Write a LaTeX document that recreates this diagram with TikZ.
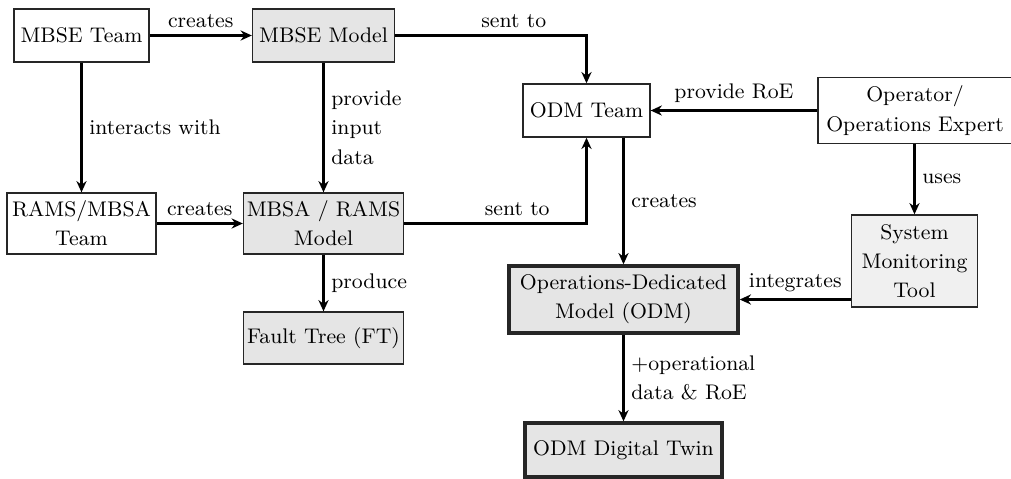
\documentclass[tikz,border=0pt]{standalone}
\usetikzlibrary{arrows.meta}
\begin{document}
\begin{tikzpicture}[x=0.4444pt,y=-0.4444pt,
  font=\fontsize{9.4}{13}\selectfont,
  box/.style={draw=black!85, line width=0.6pt, align=center, inner sep=1pt},
  gbox/.style={box, fill=gray!20},
  lbox/.style={box, fill=gray!12},
  tbox/.style={box, fill=gray!20, line width=1.5pt},
  arr/.style={-{Stealth[length=5pt,width=4.5pt]}, line width=1pt},
  lab/.style={inner sep=3pt, align=left}]
\useasboundingbox (0,0) rectangle (1011,478);
\node[box, minimum width=60pt, minimum height=23.6pt] (mt) at (81.5,35.5) {MBSE Team};
\node[gbox, minimum width=63.1pt, minimum height=23.6pt] (mm) at (323.5,35.5) {MBSE Model};
\node[box, minimum width=66.2pt, minimum height=27.1pt] (rt) at (81.5,223.5) {RAMS/MBSA\\Team};
\node[gbox, minimum width=71.1pt, minimum height=27.1pt] (mr) at (323.5,223.5) {MBSA / RAMS\\Model};
\node[gbox, minimum width=71.1pt, minimum height=23.1pt] (ft) at (323.5,338) {Fault Tree (FT)};
\node[box, minimum width=56.4pt, minimum height=23.6pt] (odt) at (586.5,110.5) {ODM Team};
\node[box, minimum width=86.2pt, minimum height=29.3pt] (op) at (915,110.5) {Operator/\\Operations Expert};
\node[lbox, minimum width=56pt, minimum height=40.9pt] (smt) at (914.5,261) {System\\Monitoring\\Tool};
\node[tbox, minimum width=101.8pt, minimum height=29.8pt] (odm) at (623.5,299.5) {Operations-Dedicated\\Model (ODM)};
\node[tbox, minimum width=87.6pt, minimum height=24pt] (tw) at (623.5,450) {ODM Digital Twin};

\draw[arr] (mt.east) -- node[lab, above] {creates} (mm.west);
\draw[arr] (mt.south) -- node[lab, right] {interacts with} (rt.north);
\draw[arr] (mm.south) -- node[lab, right] {provide\\input\\data} (mr.north);
\draw[arr] (rt.east) -- node[lab, above] {creates} (mr.west);
\draw[arr] (mr.south) -- node[lab, right] {produce} (ft.north);
\draw[arr] (mm.east) -| node[lab, above, pos=0.31] {sent to} (odt.north);
\draw[arr] (mr.east) -| node[lab, above, pos=0.31] {sent to} (odt.south);
\draw[arr] (op.west |- odt.east) -- node[lab, above] {provide RoE} (odt.east);
\draw[arr] (op.south -| smt.north) -- node[lab, right] {uses} (smt.north);
\draw[arr] (odt.south -| odm.north) -- node[lab, right] {creates} (odm.north);
\draw[arr] (smt.west |- odm.east) -- node[lab, above] {integrates} (odm.east);
\draw[arr] (odm.south) -- node[lab, right] {+operational\\data \& RoE} (tw.north);
\end{tikzpicture}
\end{document}
